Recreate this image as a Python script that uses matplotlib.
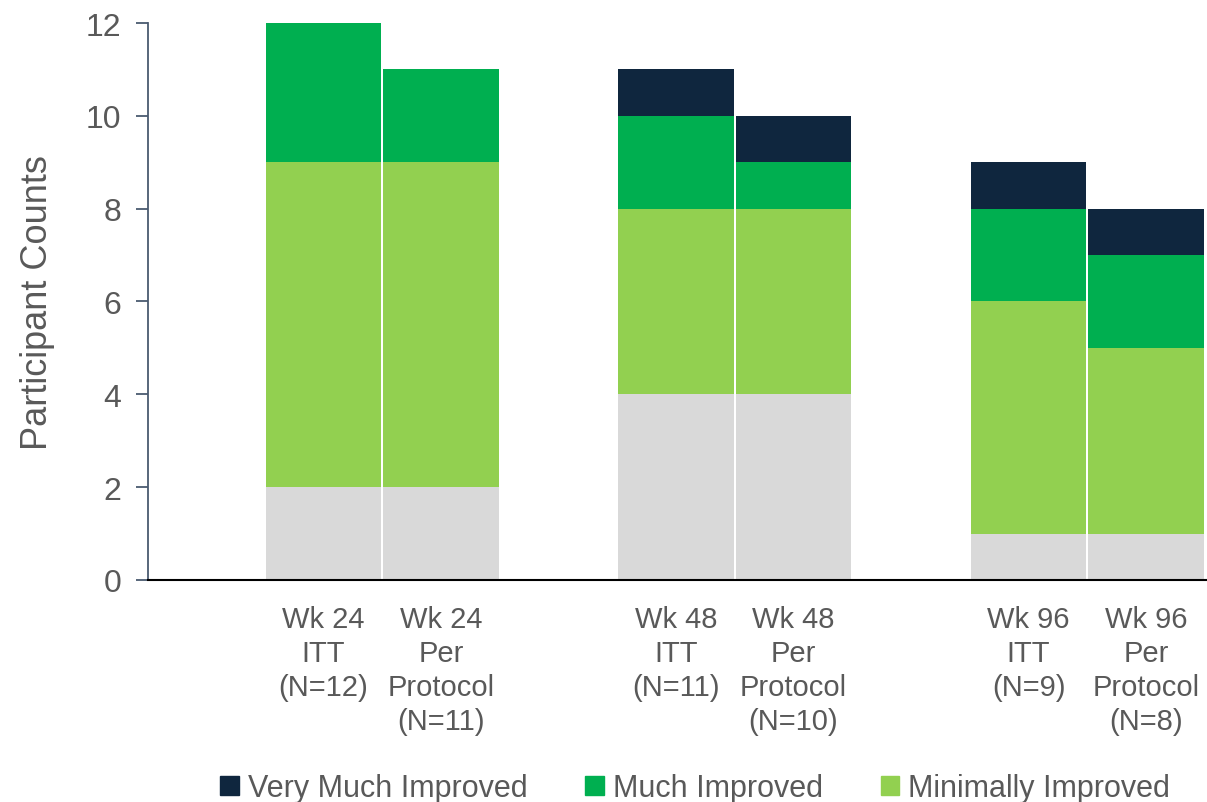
import matplotlib
matplotlib.use("Agg")
import matplotlib.pyplot as plt
from matplotlib.patches import Patch

# --- data ------------------------------------------------------------------ #
CATEGORIES = ["Wk 24\nITT\n(N=12)", "Wk 24\nPer\nProtocol\n(N=11)",
              "Wk 48\nITT\n(N=11)", "Wk 48\nPer\nProtocol\n(N=10)",
              "Wk 96\nITT\n(N=9)", "Wk 96\nPer\nProtocol\n(N=8)"]
SLOTS = [1, 2, 4, 5, 7, 8]          # empty slot before each pair
NO_CHANGE = [2, 2, 4, 4, 1, 1]
MINIMALLY = [7, 7, 4, 4, 5, 4]
MUCH = [3, 2, 2, 1, 2, 2]
VERY_MUCH = [0, 0, 1, 1, 1, 1]

C_GRAY = "#D9D9D9"
C_LIGHT = "#92D050"
C_GREEN = "#00AF50"
C_NAVY = "#0F263E"
TXT = "#595959"

plt.rcParams.update({"font.family": ["Liberation Sans", "DejaVu Sans"],
                     "font.size": 20})

fig = plt.figure(figsize=(12.07, 8.03), dpi=100)
ax = fig.add_axes([0.1226, 0.2765, 0.8764, 0.6936])

w = 0.985
bottom = [0] * len(SLOTS)
for vals, col in [(NO_CHANGE, C_GRAY), (MINIMALLY, C_LIGHT),
                  (MUCH, C_GREEN), (VERY_MUCH, C_NAVY)]:
    ax.bar(SLOTS, vals, width=w, bottom=bottom, color=col, linewidth=0,
           align="edge")
    bottom = [b + v for b, v in zip(bottom, vals)]

ax.set_xlim(0, 9)
ax.set_ylim(0, 12)
ax.set_yticks(range(0, 13, 2))
ax.set_xticks([s + w / 2 for s in SLOTS])
ax.set_xticklabels(CATEGORIES, color=TXT, fontsize=21, linespacing=1.28)
ax.tick_params(axis="x", length=0, pad=18)
ax.tick_params(axis="y", length=9, width=1.3, color="#4A5A70",
               labelcolor=TXT, labelsize=23, pad=10)

for s in ["top", "right"]:
    ax.spines[s].set_visible(False)
ax.spines["left"].set_color("#4A5A70")
ax.spines["left"].set_linewidth(1.3)
ax.spines["bottom"].set_color("black")
ax.spines["bottom"].set_linewidth(1.5)

ax.set_ylabel("Participant Counts", color=TXT, fontsize=26, labelpad=22)

handles = [Patch(color=C_NAVY, label="Very Much Improved"),
           Patch(color=C_GREEN, label="Much Improved"),
           Patch(color=C_LIGHT, label="Minimally Improved")]
fig.legend(handles=handles, loc="lower center", ncol=3,
           bbox_to_anchor=(0.576, -0.036), frameon=False, fontsize=22,
           labelcolor=TXT, handlelength=0.6, handleheight=0.6,
           handletextpad=0.3, columnspacing=1.9)

fig.savefig("out.png", dpi=100)
